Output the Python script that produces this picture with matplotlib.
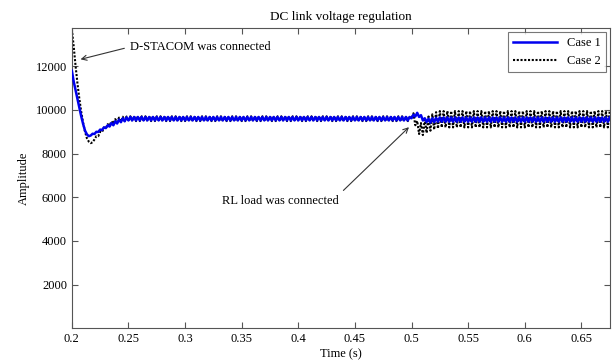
import numpy as np
import matplotlib.pyplot as plt
from matplotlib.ticker import FormatStrFormatter

plt.rcParams['font.family'] = ['Liberation Serif', 'DejaVu Serif']

# sampling: one value per half ripple period (ripple ~300 Hz)
t0 = 0.2
dt = 1 / 600.0

# Case 1 (blue) values
case1_start = [11800, 11300, 10900, 10500, 10100, 9700, 9350, 9050, 8880, 8800,
               8830, 8910, 8900, 9000, 8990, 9100, 9080, 9200, 9170, 9300,
               9240, 9400, 9300, 9480, 9380, 9560, 9440, 9620, 9480, 9660]
case1_steady = [9520, 9680] * 75
case1_load = [9620, 9780, 9700, 9870, 9680, 9760, 9520, 9620, 9450, 9600,
              9420, 9620, 9440, 9640]
case1_end = [9460, 9660] * 46

# Case 2 (black dotted) values
case2_start = [13700, 12900, 12000, 11200, 10500, 9900, 9400, 9000, 8700, 8550,
               8480, 8520, 8650, 8800, 8800, 9000, 8980, 9200, 9150, 9350,
               9280, 9480, 9370, 9580, 9430, 9650, 9470, 9690, 9500, 9700]
case2_steady = [9490, 9710] * 75
case2_load = [9600, 9850, 9300, 9500, 8900, 9400, 8850, 9550, 8950, 9700,
              9050, 9800, 9100, 9900, 9150, 9950]
case2_end = [9200, 9950] * 45

case1 = np.array(case1_start + case1_steady + case1_load + case1_end, dtype=float)
case2 = np.array(case2_start + case2_steady + case2_load + case2_end, dtype=float)
time = t0 + dt * np.arange(len(case1))

xticks = [0.2, 0.25, 0.3, 0.35, 0.4, 0.45, 0.5, 0.55, 0.6, 0.65]
yticks = [2000, 4000, 6000, 8000, 10000, 12000]

fig = plt.figure(figsize=(6.14, 3.61), dpi=100)
ax = fig.add_axes([0.117, 0.091, 0.876, 0.831])

ax.plot(time, case1, color='#0000ee', lw=1.8, label='Case 1', zorder=3)
ax.plot(time, case2, color='black', lw=1.5, ls=(0, (1, 0.8)), label='Case 2', zorder=2)

ax.set_xlim(0.2, 0.675)
ax.set_ylim(0, 13750)
ax.set_xticks(xticks)
ax.set_yticks(yticks)
ax.xaxis.set_major_formatter(FormatStrFormatter('%g'))
ax.tick_params(direction='in', top=True, right=True, labelsize=9, length=4, color='#555555')
for s in ax.spines.values():
    s.set_color('#555555')
    s.set_linewidth(0.8)

ax.set_title('DC link voltage regulation', fontsize=9.5, pad=6)
ax.set_xlabel('Time (s)', fontsize=9, labelpad=2)
ax.set_ylabel('Amplitude', fontsize=9, labelpad=4)

ax.annotate('D-STACOM was connected', xy=(0.2053, 12290), xytext=(0.2512, 12890),
            fontsize=9, ha='left', va='center',
            arrowprops=dict(arrowstyle='->', color='#333333', lw=0.8, relpos=(0, 0.5)))
ax.annotate('RL load was connected', xy=(0.4995, 9300), xytext=(0.3325, 5826),
            fontsize=9, ha='left', va='center',
            arrowprops=dict(arrowstyle='->', color='#333333', lw=0.8, relpos=(1, 1)))

leg = ax.legend(loc='upper right', fontsize=9, frameon=True, fancybox=False,
                handlelength=3.5, borderaxespad=0.3)
leg.get_frame().set_edgecolor('#555555')
leg.get_frame().set_linewidth(0.8)

fig.savefig('out.png', dpi=100)
